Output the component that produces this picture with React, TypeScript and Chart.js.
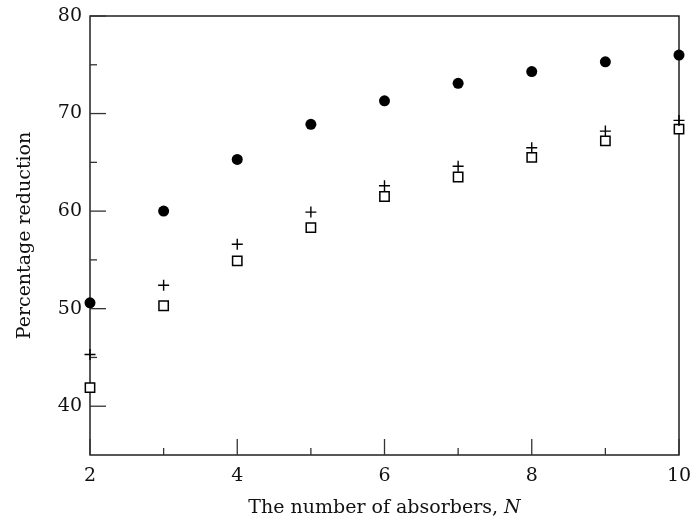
import React, { useEffect, useRef } from "react";
import { Chart, registerables } from "chart.js";

Chart.register(...registerables);

// Number of absorbers
const absorbers = [2, 3, 4, 5, 6, 7, 8, 9, 10];
// Percentage reduction for each configuration
const seriesFilled = [50.6, 60.0, 65.3, 68.9, 71.3, 73.1, 74.3, 75.3, 76.0];
const seriesCross = [45.3, 52.4, 56.6, 59.9, 62.6, 64.6, 66.5, 68.2, 69.3];
const seriesSquare = [41.9, 50.3, 54.9, 58.3, 61.5, 63.5, 65.5, 67.2, 68.4];

const xMajorTicks = [2, 4, 6, 8, 10];
const xMinorTicks = [3, 5, 7, 9];
const yMajorTicks = [40, 50, 60, 70, 80];
const yMinorTicks = [45, 55, 65, 75];

const FONT = "'DejaVu Serif', 'Liberation Serif', serif";
const FONT_SIZE = 19;

const framePlugin = {
  id: "frameAndTicks",
  beforeDatasetsDraw(chart: any) {
    const { ctx, chartArea, scales } = chart;
    const { left, right, top, bottom } = chartArea;
    const xs = scales.x;
    const ys = scales.y;
    ctx.save();
    ctx.strokeStyle = "#111";
    ctx.lineWidth = 1.4;
    ctx.strokeRect(left, top, right - left, bottom - top);

    ctx.strokeStyle = "#333";
    ctx.lineWidth = 1.3;
    const tick = (x1: number, y1: number, x2: number, y2: number) => {
      ctx.beginPath();
      ctx.moveTo(x1, y1);
      ctx.lineTo(x2, y2);
      ctx.stroke();
    };
    yMajorTicks.forEach((v) => {
      const y = ys.getPixelForValue(v);
      tick(left, y, left + 16, y);
    });
    yMinorTicks.forEach((v) => {
      const y = ys.getPixelForValue(v);
      tick(left, y, left + 7, y);
    });
    xMajorTicks.forEach((v) => {
      const x = xs.getPixelForValue(v);
      tick(x, bottom, x, bottom - 16);
    });
    xMinorTicks.forEach((v) => {
      const x = xs.getPixelForValue(v);
      tick(x, bottom, x, bottom - 7);
    });
    ctx.restore();
  },
  afterDraw(chart: any) {
    const { ctx, chartArea } = chart;
    const { left, right, top, bottom } = chartArea;
    ctx.save();
    ctx.fillStyle = "#111";
    ctx.textBaseline = "alphabetic";

    // x-axis title with italic N
    const plain = "The number of absorbers, ";
    const ital = "N";
    ctx.font = `${FONT_SIZE}px ${FONT}`;
    const w1 = ctx.measureText(plain).width;
    ctx.font = `italic ${FONT_SIZE}px ${FONT}`;
    const w2 = ctx.measureText(ital).width;
    const cx = (left + right) / 2;
    const startX = cx - (w1 + w2) / 2;
    const ty = bottom + 58;
    ctx.font = `${FONT_SIZE}px ${FONT}`;
    ctx.textAlign = "left";
    ctx.fillText(plain, startX, ty);
    ctx.font = `italic ${FONT_SIZE}px ${FONT}`;
    ctx.fillText(ital, startX + w1, ty);

    // y-axis title
    ctx.font = `${FONT_SIZE}px ${FONT}`;
    ctx.translate(30, (top + bottom) / 2);
    ctx.rotate(-Math.PI / 2);
    ctx.textAlign = "center";
    ctx.fillText("Percentage reduction", 0, 0);
    ctx.restore();
  },
};

export default function App() {
  const canvasRef = useRef<HTMLCanvasElement | null>(null);

  useEffect(() => {
    document.body.style.margin = "0";
    const canvas = canvasRef.current;
    if (!canvas) return;
    const toPoints = (vals: number[]) => absorbers.map((n, i) => ({ x: n, y: vals[i] }));

    const chart = new Chart(canvas, {
      type: "scatter",
      data: {
        datasets: [
          {
            data: toPoints(seriesFilled),
            pointStyle: "circle",
            pointRadius: 5.5,
            backgroundColor: "#000",
            borderColor: "#000",
            borderWidth: 0,
            clip: false,
          } as any,
          {
            data: toPoints(seriesCross),
            pointStyle: "cross",
            pointRadius: 5.5,
            backgroundColor: "#000",
            borderColor: "#000",
            borderWidth: 1.4,
            clip: false,
          } as any,
          {
            data: toPoints(seriesSquare),
            pointStyle: "rect",
            pointRadius: 6.6,
            backgroundColor: "#fff",
            borderColor: "#000",
            borderWidth: 1.5,
            clip: false,
          } as any,
        ],
      },
      options: {
        animation: false,
        responsive: false,
        devicePixelRatio: 1,
        layout: { padding: { top: 16, right: 12, left: 0, bottom: 0 } },
        plugins: {
          legend: { display: false },
          tooltip: { enabled: false },
        },
        scales: {
          x: {
            type: "linear",
            min: 2,
            max: 10,
            grid: { display: false, drawTicks: false },
            border: { display: false },
            afterBuildTicks: (s: any) => {
              s.ticks = xMajorTicks.map((v) => ({ value: v }));
            },
            afterFit: (s: any) => {
              s.height = 68;
              s.paddingLeft = 0;
              s.paddingRight = 0;
            },
            ticks: {
              color: "#111",
              padding: 10,
              maxRotation: 0,
              autoSkip: false,
              font: { family: FONT, size: FONT_SIZE },
            },
          },
          y: {
            type: "linear",
            min: 35,
            max: 80,
            grid: { display: false, drawTicks: false },
            border: { display: false },
            afterBuildTicks: (s: any) => {
              s.ticks = yMajorTicks.map((v) => ({ value: v }));
            },
            afterFit: (s: any) => {
              s.width = 90;
              s.paddingTop = 0;
              s.paddingBottom = 0;
            },
            ticks: {
              color: "#111",
              padding: 8,
              autoSkip: false,
              font: { family: FONT, size: FONT_SIZE },
            },
          },
        },
      },
      plugins: [framePlugin],
    });
    return () => chart.destroy();
  }, []);

  return (
    <canvas
      ref={canvasRef}
      width={691}
      height={523}
      style={{ display: "block", width: 691, height: 523 }}
    />
  );
}
